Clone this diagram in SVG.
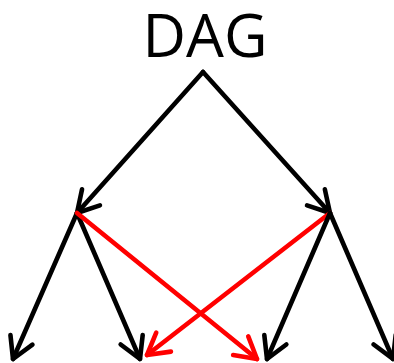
<svg xmlns="http://www.w3.org/2000/svg" width="394" height="363" viewBox="0 0 394 363">
<style>
.t{font-family:"Open Sans","Noto Sans",sans-serif;font-size:60px;fill:#000}
.e{fill:none;stroke-width:4.6;stroke-linecap:round;stroke-linejoin:round}
.k{stroke:#000}
.r{stroke:#ff0000}
</style>
<defs>
<marker id="ak" markerUnits="userSpaceOnUse" viewBox="-26 -15 30 30" refX="0" refY="0" markerWidth="30" markerHeight="30" orient="auto">
<path d="M-21,-12 L0,0 L-21,12" fill="none" stroke="#000" stroke-width="4.6" stroke-linecap="round" stroke-linejoin="round"/>
</marker>
<marker id="ar" markerUnits="userSpaceOnUse" viewBox="-26 -15 30 30" refX="0" refY="0" markerWidth="30" markerHeight="30" orient="auto">
<path d="M-21,-12 L0,0 L-21,12" fill="none" stroke="#ff0000" stroke-width="4.6" stroke-linecap="round" stroke-linejoin="round"/>
</marker>
</defs>
<g id="title"><text class="t" x="205" y="57" text-anchor="middle" textLength="125" lengthAdjust="spacingAndGlyphs">DAG</text></g>
<g id="connectors">
<line class="e k" x1="203" y1="72" x2="77" y2="213" marker-end="url(#ak)"/>
<line class="e k" x1="203" y1="72" x2="330" y2="213" marker-end="url(#ak)"/>
<line class="e k" x1="77" y1="213" x2="13" y2="359" marker-end="url(#ak)"/>
<line class="e k" x1="77" y1="213" x2="140" y2="359" marker-end="url(#ak)"/>
<line class="e r" x1="77" y1="213" x2="257" y2="359" marker-end="url(#ar)"/>
<line class="e r" x1="330" y1="213" x2="147" y2="355" marker-end="url(#ar)"/>
<line class="e k" x1="330" y1="213" x2="267" y2="359" marker-end="url(#ak)"/>
<line class="e k" x1="330" y1="213" x2="393" y2="359" marker-end="url(#ak)"/>
</g>
</svg>
